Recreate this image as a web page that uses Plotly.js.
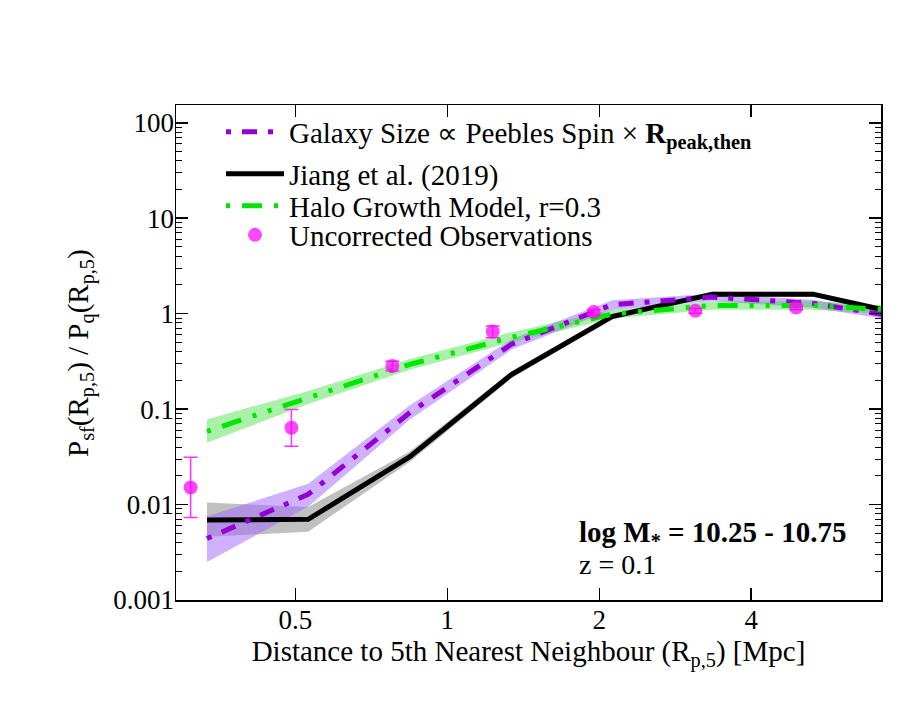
<!DOCTYPE html>
<html>
<head>
<meta charset="utf-8">
<script src="https://cdn.plot.ly/plotly-3.0.1.min.js"></script>
<style>html,body{margin:0;padding:0;background:#fff;}#chart{width:913px;height:706px;}</style>
</head>
<body>
<div id="chart"></div>
<script>
// ---- data ----
const modelX = [0.334, 0.53, 0.843, 1.34, 2.12, 3.35, 5.3, 8.4];

const jiangY    = [0.0069, 0.0070, 0.0318, 0.23, 0.93, 1.60, 1.60, 0.93];
const jiangHigh = [0.0105, 0.0094, 0.036, 0.25, 1.00, 1.70, 1.70, 1.00];
const jiangLow  = [0.0046, 0.0052, 0.028, 0.21, 0.87, 1.50, 1.50, 0.86];

const peeblesY    = [0.0044, 0.0128, 0.092, 0.478, 1.24, 1.49, 1.28, 0.87];
const peeblesHigh = [0.0075, 0.0165, 0.110, 0.540, 1.38, 1.62, 1.40, 0.96];
const peeblesLow  = [0.0025, 0.0095, 0.078, 0.420, 1.10, 1.36, 1.15, 0.79];

const haloY    = [0.0586, 0.132, 0.294, 0.565, 0.99, 1.22, 1.22, 1.06];
const haloHigh = [0.078, 0.155, 0.334, 0.64, 1.10, 1.35, 1.35, 1.17];
const haloLow  = [0.0445, 0.113, 0.259, 0.50, 0.89, 1.10, 1.10, 0.95];

const obsX    = [0.31, 0.491, 0.778, 1.23, 1.95, 3.1, 4.91];
const obsY    = [0.0151, 0.0637, 0.283, 0.649, 1.04, 1.07, 1.16];
const obsHigh = [0.0313, 0.099, 0.318, 0.743, 1.10, 1.13, 1.22];
const obsLow  = [0.0073, 0.0407, 0.251, 0.560, 0.98, 1.01, 1.10];

const xTickVals = [0.5, 1, 2, 4];
const xTickText = ['0.5', '1', '2', '4'];
const yTickVals = [0.001, 0.01, 0.1, 1, 10, 100];
const yTickText = ['0.001', '0.01', '0.1', '1', '10', '100'];

const legendNames = [
  'Galaxy Size \u221D Peebles Spin \u00D7 <b>R<sub>peak,then</sub></b>',
  'Jiang et al. (2019)',
  'Halo Growth Model, r=0.3',
  'Uncorrected Observations'
];

// ---- helpers ----
function band(x, hi, lo, color) {
  return {
    x: x.concat(x.slice().reverse()),
    y: hi.concat(lo.slice().reverse()),
    type: 'scatter', mode: 'lines', fill: 'toself',
    fillcolor: color, line: {width: 0, color: color},
    hoverinfo: 'skip', showlegend: false
  };
}

const yMinor = [];
for (let k = -3; k <= 2; k++) {
  for (let d = 2; d <= 9; d++) yMinor.push(d * Math.pow(10, k));
}

const FONT = 'Liberation Serif, Times New Roman, serif';
const L = 176, R = 881, T = 105, B = 600;
const px = v => (v - L) / (R - L);
const py = v => (B - v) / (B - T);

const traces = [
  band(modelX, jiangHigh, jiangLow, 'rgba(150,150,150,0.6)'),
  band(modelX, peeblesHigh, peeblesLow, 'rgba(160,100,255,0.5)'),
  band(modelX, haloHigh, haloLow, 'rgba(40,220,40,0.4)'),
  {
    x: modelX, y: jiangY, type: 'scatter', mode: 'lines',
    name: legendNames[1], legend: 'legend2',
    line: {color: '#000000', width: 5}
  },
  {
    x: modelX, y: peeblesY, type: 'scatter', mode: 'lines',
    name: legendNames[0], legend: 'legend',
    line: {color: '#9400d3', width: 5, dash: '5px,11px,15px,11px'}
  },
  {
    x: modelX, y: haloY, type: 'scatter', mode: 'lines',
    name: legendNames[2], legend: 'legend3',
    line: {color: '#00e600', width: 5, dash: '4px,12px,20px,12px,4px,12px'}
  },
  {
    x: obsX, y: obsY, type: 'scatter', mode: 'markers',
    name: legendNames[3], legend: 'legend4',
    marker: {color: 'rgba(255,0,255,0.72)', size: 14},
    error_y: {
      type: 'data', symmetric: false,
      array: obsHigh.map((v, i) => v - obsY[i]),
      arrayminus: obsY.map((v, i) => v - obsLow[i]),
      color: '#ff33ff', thickness: 1.5, width: 7
    }
  }
];

function leg(yPix) {
  return {
    x: px(221), y: py(yPix), xanchor: 'left', yanchor: 'middle',
    bgcolor: 'rgba(0,0,0,0)', borderwidth: 0,
    font: {family: FONT, size: 29, color: '#000'},
    itemwidth: 58
  };
}

const layout = {
  width: 913, height: 706,
  margin: {l: 176, r: 32, t: 105, b: 106},
  paper_bgcolor: '#ffffff', plot_bgcolor: '#ffffff',
  font: {family: FONT, color: '#000000', size: 27},
  showlegend: true,
  legend: leg(132),
  legend2: leg(174),
  legend3: leg(206),
  legend4: leg(235),
  xaxis: {
    type: 'log', range: [Math.log10(0.29), Math.log10(7.23)],
    tickmode: 'array', tickvals: xTickVals, ticktext: xTickText,
    ticks: 'inside', ticklen: 12, tickwidth: 1.5, tickcolor: '#000',
    showline: true, linewidth: 1.5, linecolor: '#000', mirror: 'allticks',
    showgrid: false, zeroline: false, ticklabelstandoff: -5,
    tickfont: {family: FONT, size: 27},
    title: {text: 'Distance to 5th Nearest Neighbour (R<sub>p,5</sub>) [Mpc]',
            font: {family: FONT, size: 29}, standoff: 0}
  },
  yaxis: {
    type: 'log', range: [-3, 2.186],
    tickmode: 'array', tickvals: yTickVals, ticktext: yTickText,
    ticks: 'inside', ticklen: 12, tickwidth: 1.5, tickcolor: '#000',
    showline: true, linewidth: 1.5, linecolor: '#000', mirror: 'allticks',
    showgrid: false, zeroline: false, ticklabelstandoff: -5,
    minor: {tickmode: 'array', tickvals: yMinor, ticks: 'inside', ticklen: 6,
            tickwidth: 1, tickcolor: '#000', showgrid: false},
    tickfont: {family: FONT, size: 27}
  },
  annotations: [
    {xref: 'paper', yref: 'paper', x: px(80), y: py(353),
     xanchor: 'center', yanchor: 'middle', showarrow: false, textangle: -90,
     text: 'P<sub>sf</sub>(R<sub>p,5</sub>) / P<sub>q</sub>(R<sub>p,5</sub>)',
     font: {family: FONT, size: 29, color: '#000'}},
    {xref: 'paper', yref: 'paper', x: px(577), y: py(534),
     xanchor: 'left', yanchor: 'middle', showarrow: false,
     text: '<b>log M<sub>*</sub> = 10.25 - 10.75</b>',
     font: {family: FONT, size: 29, color: '#000'}},
    {xref: 'paper', yref: 'paper', x: px(577), y: py(564),
     xanchor: 'left', yanchor: 'middle', showarrow: false,
     text: 'z = 0.1',
     font: {family: FONT, size: 28, color: '#000'}}
  ]
};

Plotly.newPlot('chart', traces, layout, {displayModeBar: false, staticPlot: true});
</script>
</body>
</html>
